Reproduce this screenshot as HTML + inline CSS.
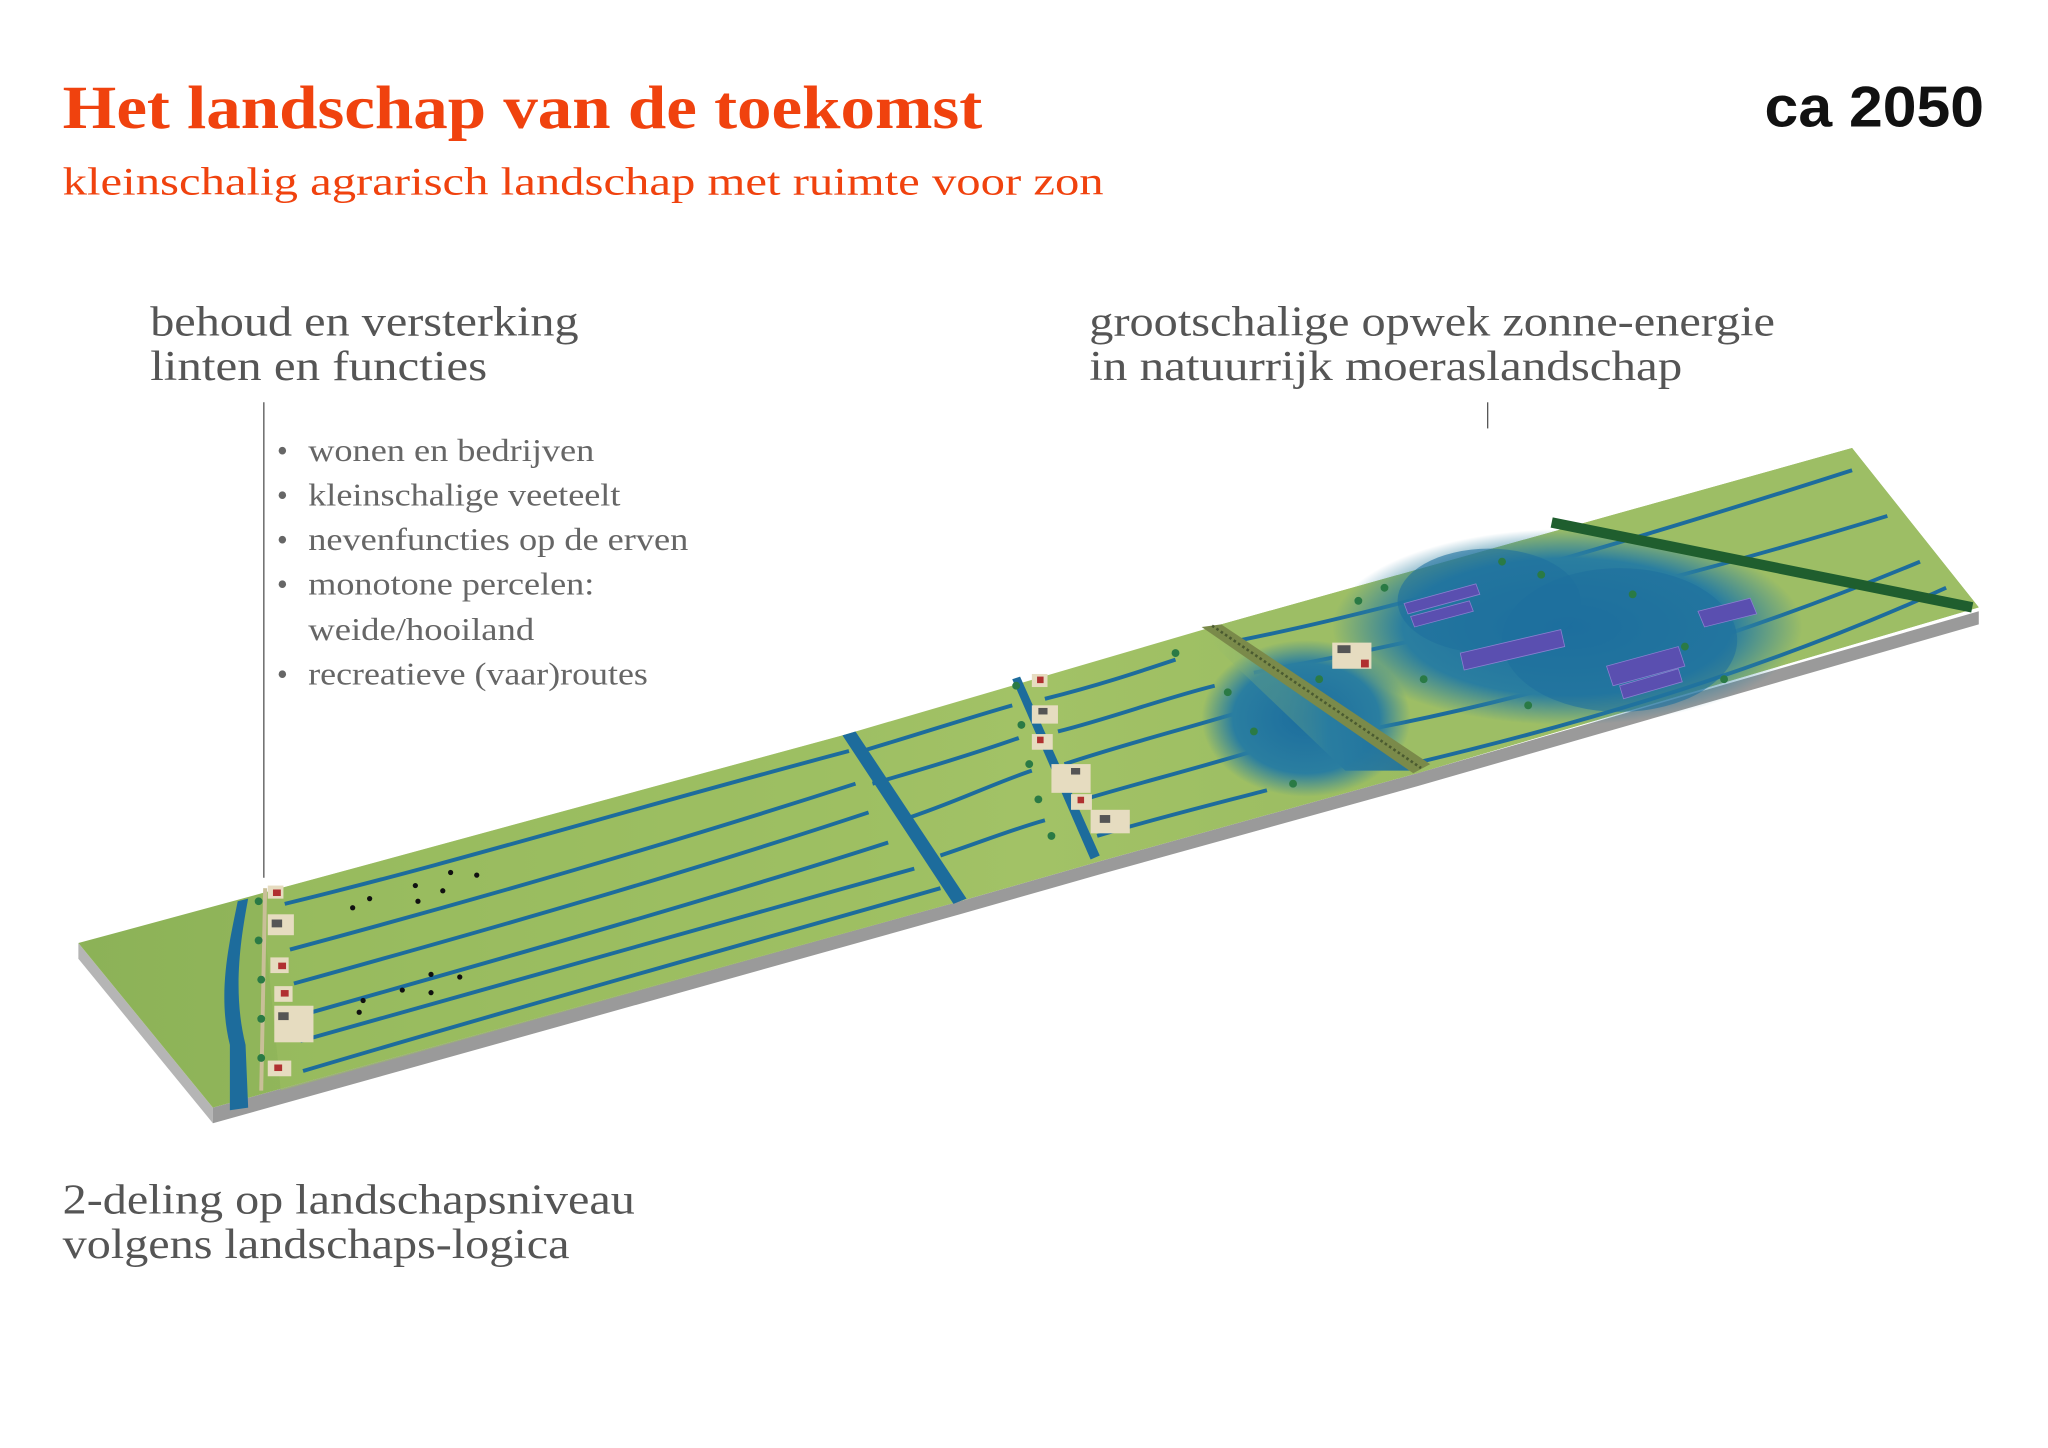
<!DOCTYPE html>
<html><head><meta charset="utf-8"><style>
html,body{margin:0;padding:0;background:#fff;width:2048px;height:1448px;overflow:hidden}
svg{display:block}
.t{font-family:"Liberation Serif",serif}
.s{font-family:"Liberation Sans",sans-serif}
</style></head><body>
<svg width="2048" height="1448" viewBox="0 0 1568 1108.6" xmlns="http://www.w3.org/2000/svg">
<defs>
<linearGradient id="g1" x1="0" y1="0" x2="1" y2="0">
<stop offset="0" stop-color="#8cb257"/><stop offset="0.5" stop-color="#a2c266"/><stop offset="1" stop-color="#8fb45a"/></linearGradient>
<radialGradient id="w1" cx="0.5" cy="0.5" r="0.5"><stop offset="0" stop-color="#1c6d9e"/><stop offset="0.7" stop-color="#2a7ea0"/><stop offset="1" stop-color="#2a7ea0" stop-opacity="0"/></radialGradient>
<linearGradient id="w2" x1="0" y1="0" x2="1" y2="0"><stop offset="0" stop-color="#a2c266" stop-opacity="0"/><stop offset="0.6" stop-color="#2a7ea0"/><stop offset="1" stop-color="#1c6d9e"/></linearGradient>
</defs>
<text x="48" y="98" class="t" font-weight="bold" font-size="47" fill="#f0420e" textLength="704" lengthAdjust="spacingAndGlyphs">Het landschap van de toekomst</text>
<text x="1519" y="97" class="s" font-weight="bold" font-size="44" fill="#111" text-anchor="end" textLength="168" lengthAdjust="spacingAndGlyphs">ca 2050</text>
<text x="48" y="149" class="t" font-size="30" fill="#f0420e" textLength="797" lengthAdjust="spacingAndGlyphs">kleinschalig agrarisch landschap met ruimte voor zon</text>
<g class="t" fill="#555" font-size="32">
<text x="115" y="257" textLength="328" lengthAdjust="spacingAndGlyphs">behoud en versterking</text>
<text x="115" y="291" textLength="258" lengthAdjust="spacingAndGlyphs">linten en functies</text>
<text x="834" y="257" textLength="525" lengthAdjust="spacingAndGlyphs">grootschalige opwek zonne-energie</text>
<text x="834" y="291" textLength="454" lengthAdjust="spacingAndGlyphs">in natuurrijk moeraslandschap</text>
<text x="48" y="929" textLength="438" lengthAdjust="spacingAndGlyphs">2-deling op landschapsniveau</text>
<text x="48" y="963" textLength="388" lengthAdjust="spacingAndGlyphs">volgens landschaps-logica</text>
</g>
<g class="t" fill="#666" font-size="24">
<text x="212" y="353">•</text><text x="236" y="353" textLength="219" lengthAdjust="spacingAndGlyphs">wonen en bedrijven</text>
<text x="212" y="387">•</text><text x="236" y="387" textLength="239" lengthAdjust="spacingAndGlyphs">kleinschalige veeteelt</text>
<text x="212" y="421">•</text><text x="236" y="421" textLength="291" lengthAdjust="spacingAndGlyphs">nevenfuncties op de erven</text>
<text x="212" y="455">•</text><text x="236" y="455" textLength="219" lengthAdjust="spacingAndGlyphs">monotone percelen:</text>
<text x="236" y="490" textLength="173" lengthAdjust="spacingAndGlyphs">weide/hooiland</text>
<text x="212" y="524">•</text><text x="236" y="524" textLength="260" lengthAdjust="spacingAndGlyphs">recreatieve (vaar)routes</text>
</g>
<line x1="202" y1="308" x2="202" y2="672" stroke="#555" stroke-width="1"/>
<line x1="1139" y1="308" x2="1139" y2="328" stroke="#555" stroke-width="1"/>
<polygon points="60,722 163,848 163,860 60,734" fill="#b5b5b5"/>
<polygon points="163,848 735,690 840,660 1085,592 1515,468 1515,478 1085,602 840,670 735,700 163,860" fill="#9a9a9a"/>
<polygon points="60,722 200,684 645,563 935,478 1418,343 1515,465 1085,592 840,660 735,690 163,848" fill="url(#g1)"/>
<polygon points="200,684 645,563 735,690 215,835" fill="#9ebf62" opacity="0.5"/>
<polygon points="935,478 1418,343 1515,465 1085,592" fill="#9dbe65"/>
<path d="M182,690 L190,688 C184,720 178,760 188,800 L190,848 L176,850 L176,800 C166,760 176,720 182,690Z" fill="#1d6c9c"/>
<line x1="203" y1="680" x2="200" y2="835" stroke="#c9bf98" stroke-width="3"/>
<g fill="none" stroke="#1d6c9c" stroke-width="3">
<path d="M218,692 C350,660 480,620 650,575"/>
<path d="M222,727 C360,690 500,650 655,600"/>
<path d="M225,753 C380,710 520,670 665,622"/>
<path d="M228,778 C380,735 540,690 680,645"/>
<path d="M230,797 C400,750 560,705 700,665"/>
<path d="M232,820 C400,770 580,720 720,680"/>
<path d="M660,575 C710,560 740,550 775,540"/>
<path d="M668,600 C720,585 760,572 780,565"/>
<path d="M690,628 C730,615 760,600 790,590"/>
<path d="M720,655 C750,645 775,635 800,628"/>
<path d="M800,535 C840,525 870,515 900,505"/>
<path d="M810,560 C850,550 890,535 930,525"/>
<path d="M815,585 C860,570 900,560 950,545"/>
<path d="M830,612 C870,600 910,590 960,575"/>
<path d="M840,640 C880,628 920,618 970,605"/>
<path d="M950,490 C1050,470 1200,430 1418,360"/>
<path d="M960,515 C1100,490 1300,440 1445,395"/>
<path d="M1040,560 C1200,530 1350,480 1470,430"/>
<path d="M1080,585 C1250,545 1380,500 1490,450"/>
</g>
<path d="M645,563 L655,560 L740,688 L730,692Z" fill="#1d6c9c"/>
<path d="M775,520 L781,518 L842,655 L835,658Z" fill="#1d6c9c"/>
<ellipse cx="1000" cy="550" rx="80" ry="60" fill="url(#w1)"/>
<polygon points="1030,590 1080,590 935,478 920,485" fill="url(#w2)" opacity="0.9"/>
<ellipse cx="1200" cy="480" rx="180" ry="75" fill="url(#w1)"/>
<ellipse cx="1240" cy="490" rx="90" ry="55" fill="#1e6f9e" opacity="0.6"/>
<ellipse cx="1140" cy="460" rx="70" ry="40" fill="#1e6f9e" opacity="0.6"/>
<polygon points="920,480 935,478 1095,585 1082,592" fill="#7a8a4a"/>
<line x1="928" y1="479" x2="1088" y2="588" stroke="#4a5a30" stroke-width="2" stroke-dasharray="2,2"/>
<g fill="#5a4fb0" stroke="#8a80d0" stroke-width="0.6">
<polygon points="1075,462 1130,447 1133,455 1078,470"/>
<polygon points="1080,472 1125,460 1128,468 1083,480"/>
<polygon points="1118,500 1195,482 1198,495 1121,513"/>
<polygon points="1230,510 1285,495 1290,510 1235,525"/>
<polygon points="1240,525 1285,512 1288,522 1243,535"/>
<polygon points="1300,468 1340,458 1345,470 1305,480"/>
</g>
<path d="M1188,400 L1510,465" stroke="#1f5e2e" stroke-width="8"/>
<g fill="#2a7a45">
<circle cx="1040" cy="460" r="3"/><circle cx="1060" cy="450" r="3"/><circle cx="1090" cy="520" r="3"/><circle cx="1150" cy="430" r="3"/><circle cx="1180" cy="440" r="3"/><circle cx="1250" cy="455" r="3"/><circle cx="1290" cy="495" r="3"/><circle cx="1320" cy="520" r="3"/><circle cx="1170" cy="540" r="3"/><circle cx="960" cy="560" r="3"/><circle cx="990" cy="600" r="3"/><circle cx="940" cy="530" r="3"/><circle cx="900" cy="500" r="3"/><circle cx="1010" cy="520" r="3"/>
</g>
<g fill="#e6dcc0">
<rect x="205" y="678" width="12" height="10"/><rect x="205" y="700" width="20" height="16"/><rect x="207" y="733" width="14" height="12"/><rect x="210" y="755" width="14" height="12"/><rect x="210" y="770" width="30" height="28"/><rect x="205" y="812" width="18" height="12"/>
<rect x="790" y="516" width="12" height="10"/><rect x="790" y="540" width="20" height="14"/><rect x="790" y="562" width="16" height="12"/><rect x="805" y="585" width="30" height="22"/><rect x="820" y="608" width="16" height="12"/><rect x="835" y="620" width="30" height="18"/>
<rect x="1020" y="492" width="30" height="20"/>
</g>
<g fill="#b03030"><rect x="209" y="681" width="6" height="5"/><rect x="213" y="737" width="6" height="5"/><rect x="215" y="758" width="6" height="5"/><rect x="210" y="815" width="6" height="5"/><rect x="794" y="518" width="5" height="5"/><rect x="794" y="564" width="5" height="5"/><rect x="825" y="610" width="5" height="5"/><rect x="1042" y="505" width="6" height="6"/></g>
<g fill="#555"><rect x="208" y="704" width="8" height="6"/><rect x="213" y="775" width="8" height="6"/><rect x="795" y="542" width="7" height="5"/><rect x="820" y="588" width="7" height="5"/><rect x="842" y="624" width="8" height="6"/><rect x="1024" y="494" width="10" height="6"/></g>
<g fill="#111"><circle cx="270" cy="695" r="2"/><circle cx="283" cy="688" r="2"/><circle cx="320" cy="690" r="2"/><circle cx="339" cy="682" r="2"/><circle cx="345" cy="668" r="2"/><circle cx="365" cy="670" r="2"/><circle cx="318" cy="678" r="2"/><circle cx="278" cy="766" r="2"/><circle cx="308" cy="758" r="2"/><circle cx="330" cy="746" r="2"/><circle cx="352" cy="748" r="2"/><circle cx="275" cy="775" r="2"/><circle cx="330" cy="760" r="2"/></g>
<g fill="#2a7a45"><circle cx="198" cy="690" r="3"/><circle cx="198" cy="720" r="3"/><circle cx="200" cy="750" r="3"/><circle cx="200" cy="780" r="3"/><circle cx="200" cy="810" r="3"/><circle cx="778" cy="525" r="3"/><circle cx="782" cy="555" r="3"/><circle cx="788" cy="585" r="3"/><circle cx="795" cy="612" r="3"/><circle cx="805" cy="640" r="3"/></g>
</svg>
</body></html>
